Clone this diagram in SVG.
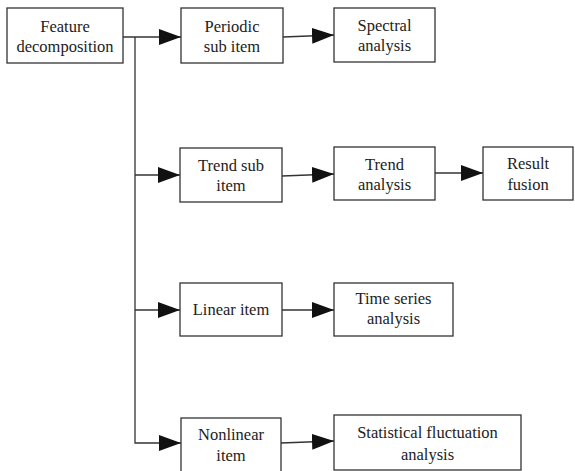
<svg xmlns="http://www.w3.org/2000/svg" width="575" height="471" viewBox="0 0 575 471">
  <style>
    .box rect { fill: #ffffff; stroke: #333333; stroke-width: 1.3; }
    .box text { font-family: serif; font-size: 16.5px; fill: #222222; text-anchor: middle; }
    .wire { fill: none; stroke: #333333; stroke-width: 1.3; }
  </style>
  <defs>
    <marker id="head" markerUnits="userSpaceOnUse" markerWidth="22" markerHeight="16" refX="22" refY="8" orient="auto">
      <path d="M0,0 L22,8 L0,16 Z" fill="#111111"/>
    </marker>
  </defs>

  <g id="connectors">
    <line class="wire" x1="123" y1="37" x2="181" y2="37" marker-end="url(#head)"/>
    <polyline class="wire" points="135,37 135,443 181,443" marker-end="url(#head)"/>
    <line class="wire" x1="135" y1="175" x2="180" y2="175" marker-end="url(#head)"/>
    <line class="wire" x1="135" y1="310" x2="180" y2="310" marker-end="url(#head)"/>
    <line class="wire" x1="283" y1="37" x2="334" y2="35" marker-end="url(#head)"/>
    <line class="wire" x1="282" y1="176" x2="334" y2="174" marker-end="url(#head)"/>
    <line class="wire" x1="435" y1="173" x2="483" y2="173" marker-end="url(#head)"/>
    <line class="wire" x1="282" y1="310" x2="334" y2="310" marker-end="url(#head)"/>
    <line class="wire" x1="281" y1="443" x2="334" y2="441" marker-end="url(#head)"/>
  </g>

  <g id="feature-decomposition" class="box">
    <rect x="7" y="8" width="116" height="55"/>
    <text x="65" y="32">Feature</text>
    <text x="65" y="52">decomposition</text>
  </g>
  <g id="periodic-sub-item" class="box">
    <rect x="181" y="8" width="102" height="55"/>
    <text x="232" y="32">Periodic</text>
    <text x="232" y="52">sub item</text>
  </g>
  <g id="spectral-analysis" class="box">
    <rect x="334" y="8" width="101" height="54"/>
    <text x="384.5" y="31">Spectral</text>
    <text x="384.5" y="51">analysis</text>
  </g>
  <g id="trend-sub-item" class="box">
    <rect x="180" y="148" width="102" height="54"/>
    <text x="231" y="171">Trend sub</text>
    <text x="231" y="191">item</text>
  </g>
  <g id="trend-analysis" class="box">
    <rect x="334" y="147" width="101" height="53"/>
    <text x="384.5" y="170">Trend</text>
    <text x="384.5" y="190">analysis</text>
  </g>
  <g id="result-fusion" class="box">
    <rect x="483" y="147" width="90" height="53"/>
    <text x="528" y="169">Result</text>
    <text x="528" y="190">fusion</text>
  </g>
  <g id="linear-item" class="box">
    <rect x="180" y="283" width="102" height="53"/>
    <text x="231" y="315">Linear item</text>
  </g>
  <g id="time-series-analysis" class="box">
    <rect x="334" y="283" width="119" height="53"/>
    <text x="393.5" y="304">Time series</text>
    <text x="393.5" y="324">analysis</text>
  </g>
  <g id="nonlinear-item" class="box">
    <rect x="181" y="418" width="100" height="60"/>
    <text x="231" y="440">Nonlinear</text>
    <text x="231" y="461">item</text>
  </g>
  <g id="statistical-fluctuation-analysis" class="box">
    <rect x="334" y="415" width="187" height="55"/>
    <text x="427.5" y="438">Statistical fluctuation</text>
    <text x="427.5" y="460">analysis</text>
  </g>
</svg>
